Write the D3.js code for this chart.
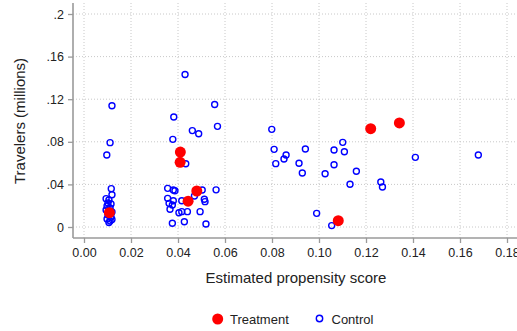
<!DOCTYPE html>
<html>
<head>
<meta charset="utf-8">
<script src="https://cdn.jsdelivr.net/npm/d3@7"></script>
<style>
  html, body { margin: 0; padding: 0; background: #fff; }
  svg { display: block; }
  text { font-family: "Liberation Sans", Arial, Helvetica, sans-serif; fill: #222; }
</style>
</head>
<body>
<svg id="chart" width="517" height="331"></svg>
<script>
// Treated units: [propensity score, travelers (millions)]
const treatment = [
  [0.0108, 0.0134], [0.0410, 0.0704], [0.0409, 0.0607], [0.0443, 0.0242],
  [0.0480, 0.0338], [0.1082, 0.0059], [0.1220, 0.0923], [0.1342, 0.0977]
];

// Control units: [propensity score, travelers (millions)]
const control = [
  [0.0119, 0.1139], [0.0111, 0.0792], [0.0097, 0.0676], [0.0116, 0.0360],
  [0.0119, 0.0303], [0.0094, 0.0266], [0.0106, 0.0254], [0.0102, 0.0225],
  [0.0115, 0.0216], [0.0098, 0.0197], [0.0111, 0.0178], [0.0094, 0.0160],
  [0.0119, 0.0141], [0.0102, 0.0113], [0.0115, 0.0094], [0.0098, 0.0075],
  [0.0119, 0.0070], [0.0106, 0.0042], [0.0111, 0.0056],
  [0.0430, 0.1432], [0.0382, 0.1033], [0.0556, 0.1150], [0.0568, 0.0945],
  [0.0461, 0.0905], [0.0488, 0.0876], [0.0378, 0.0823], [0.0433, 0.0594],
  [0.0562, 0.0349], [0.0356, 0.0363], [0.0380, 0.0347], [0.0387, 0.0341],
  [0.0503, 0.0347], [0.0356, 0.0269], [0.0380, 0.0247], [0.0416, 0.0247],
  [0.0362, 0.0222], [0.0376, 0.0207], [0.0366, 0.0166], [0.0512, 0.0260],
  [0.0515, 0.0238], [0.0470, 0.0291], [0.0404, 0.0134], [0.0416, 0.0144],
  [0.0440, 0.0144], [0.0494, 0.0144], [0.0376, 0.0035], [0.0427, 0.0050],
  [0.0519, 0.0028],
  [0.0799, 0.0917], [0.0809, 0.0729], [0.0816, 0.0595], [0.0860, 0.0676],
  [0.0851, 0.0638], [0.0942, 0.0732], [0.0915, 0.0598], [0.0929, 0.0507],
  [0.1101, 0.0795], [0.1064, 0.0723], [0.1108, 0.0707], [0.1064, 0.0585],
  [0.1026, 0.0500], [0.1159, 0.0523], [0.1132, 0.0401], [0.1263, 0.0423],
  [0.1270, 0.0376], [0.0990, 0.0128], [0.1054, 0.0013],
  [0.1410, 0.0654], [0.1678, 0.0676]
];

const xTicks = [0, 0.02, 0.04, 0.06, 0.08, 0.10, 0.12, 0.14, 0.16, 0.18];
const yTicks = [0, 0.04, 0.08, 0.12, 0.16, 0.2];
const yTickLabels = ["0", ".04", ".08", ".12", ".16", ".2"];

const svg = d3.select("#chart");
const W = 517;

const x = d3.scaleLinear().domain([0, 0.18]).range([84, 507]);
const y = d3.scaleLinear().domain([0, 0.2]).range([227, 14]);

const axisX = 73, axisY = 238, plotTop = 3, plotRight = W;
const axisColor = "#9a9a9a";
const gridColor = "#c8c8c8";

// Dotted grid
const grid = svg.append("g");
grid.selectAll("line.v").data(xTicks).join("line")
  .attr("x1", d => x(d)).attr("x2", d => x(d))
  .attr("y1", plotTop).attr("y2", axisY)
  .attr("stroke", gridColor).attr("stroke-width", 1)
  .attr("stroke-dasharray", "1,2");
grid.selectAll("line.h").data(yTicks).join("line")
  .attr("x1", axisX).attr("x2", plotRight)
  .attr("y1", d => y(d)).attr("y2", d => y(d))
  .attr("stroke", gridColor).attr("stroke-width", 1)
  .attr("stroke-dasharray", "1,2");

// Axes
const gx = svg.append("g").attr("transform", `translate(0,${axisY})`)
  .call(d3.axisBottom(x).tickValues(xTicks).tickFormat(d3.format(".2f")).tickSize(5).tickPadding(5));
const gy = svg.append("g").attr("transform", `translate(${axisX},0)`)
  .call(d3.axisLeft(y).tickValues(yTicks).tickFormat((d, i) => yTickLabels[i]).tickSize(5).tickPadding(4));
[gx, gy].forEach(g => {
  g.select(".domain").remove();
  g.selectAll(".tick line").attr("stroke", axisColor).attr("stroke-width", 1.3);
  g.selectAll(".tick text").attr("font-size", 12.5).attr("fill", "#222")
    .attr("font-family", "'Liberation Sans', Arial, sans-serif");
});
svg.append("line").attr("x1", axisX).attr("x2", plotRight).attr("y1", axisY).attr("y2", axisY)
  .attr("stroke", axisColor).attr("stroke-width", 1.6);
svg.append("line").attr("x1", axisX).attr("x2", axisX).attr("y1", plotTop).attr("y2", axisY)
  .attr("stroke", axisColor).attr("stroke-width", 1.6);

// Axis titles
svg.append("text").attr("x", 296).attr("y", 283).attr("text-anchor", "middle")
  .attr("font-size", 15).text("Estimated propensity score");
svg.append("text").attr("transform", "translate(25,121) rotate(-90)").attr("text-anchor", "middle")
  .attr("font-size", 15).text("Travelers (millions)");

// Points
svg.append("g").selectAll("circle").data(control).join("circle")
  .attr("cx", d => x(d[0])).attr("cy", d => y(d[1])).attr("r", 3)
  .attr("fill", "none").attr("stroke", "#0000ff").attr("stroke-width", 1.4);
svg.append("g").selectAll("circle").data(treatment).join("circle")
  .attr("cx", d => x(d[0])).attr("cy", d => y(d[1])).attr("r", 5.5)
  .attr("fill", "#ff0000");

// Legend
const lg = svg.append("g");
lg.append("circle").attr("cx", 217.7).attr("cy", 319).attr("r", 5.5).attr("fill", "#ff0000");
lg.append("text").attr("x", 230).attr("y", 323.5).attr("font-size", 13).text("Treatment");
lg.append("circle").attr("cx", 319.5).attr("cy", 318.5).attr("r", 3.2)
  .attr("fill", "none").attr("stroke", "#0000ff").attr("stroke-width", 1.4);
lg.append("text").attr("x", 331.5).attr("y", 323.5).attr("font-size", 13).text("Control");
</script>
</body>
</html>
